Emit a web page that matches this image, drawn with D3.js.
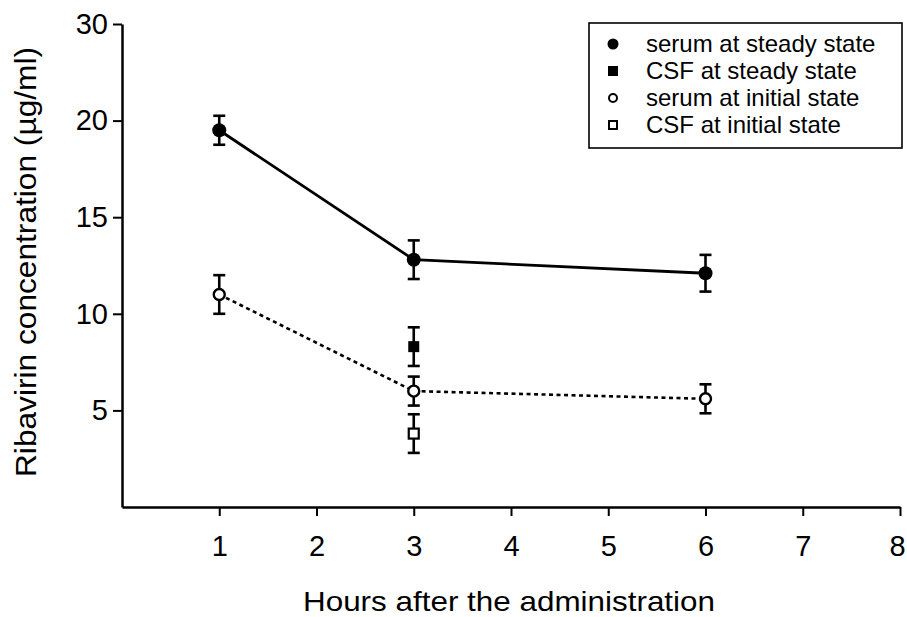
<!DOCTYPE html>
<html>
<head>
<meta charset="utf-8">
<script src="https://cdn.jsdelivr.net/npm/d3@7"></script>
<style>
  body { margin: 0; background: #fff; }
  text { font-family: "Liberation Sans", Arial, Helvetica, sans-serif; fill: #000; }
</style>
</head>
<body>
<div id="chart"></div>
<script>
var svgWidth = 907;
var svgHeight = 617;

var margin = { top: 24, right: 7, bottom: 110, left: 122 };
var width = svgWidth - margin.left - margin.right;
var height = svgHeight - margin.top - margin.bottom;

// data (hours, mean, error)
var hours = [1, 3, 6];
var serumSteady = [19.5, 12.8, 12.1];
var serumSteadyErr = [0.75, 1.0, 0.95];
var serumInitial = [11.0, 6.0, 5.6];
var serumInitialErr = [1.0, 0.75, 0.75];
var csfHours = [3];
var csfSteady = [8.3];
var csfSteadyErr = [1.0];
var csfInitial = [3.8];
var csfInitialErr = [1.0];

var xTicks = [1, 2, 3, 4, 5, 6, 7, 8];
// the top tick of the original axis is labelled 30 although it sits where 25 would be
var yTickValues = [5, 10, 15, 20, 25];
var yTickLabels = ["5", "10", "15", "20", "30"];

var legendLabels = ["serum at steady state", "CSF at steady state",
  "serum at initial state", "CSF at initial state"];

var svg = d3.select("#chart")
  .append("svg")
  .attr("width", svgWidth)
  .attr("height", svgHeight);

var chartGroup = svg.append("g")
  .attr("transform", `translate(${margin.left}, ${margin.top})`);

var xScale = d3.scaleLinear().domain([0, 8]).range([0, width]);
var yScale = d3.scaleLinear().domain([0, 25]).range([height, 0]);

// axes
var bottomAxis = d3.axisBottom(xScale)
  .tickValues(xTicks)
  .tickSize(9)
  .tickPadding(19)
  .tickSizeOuter(0);

var leftAxis = d3.axisLeft(yScale)
  .tickValues(yTickValues)
  .tickFormat((d, i) => yTickLabels[i])
  .tickSize(9)
  .tickPadding(5)
  .tickSizeOuter(0);

var xAxis = chartGroup.append("g")
  .attr("transform", `translate(0, ${height})`)
  .call(bottomAxis);

var yAxis = chartGroup.append("g")
  .call(leftAxis);

[xAxis, yAxis].forEach(function(ax) {
  ax.select(".domain").attr("stroke", "#000").attr("stroke-width", 2.5);
  ax.selectAll(".tick line").attr("stroke", "#000").attr("stroke-width", 2);
  ax.selectAll(".tick text")
    .style("font-family", '"Liberation Sans", Arial, sans-serif')
    .style("font-size", "29px")
    .attr("fill", "#000");
});
xAxis.selectAll(".tick text").attr("dy", "0.71em");
// last label sits right at the page edge, nudge it in a little
xAxis.selectAll(".tick text").filter(d => d === 8).attr("dx", -3);

// lines
var line = d3.line()
  .x(d => xScale(d[0]))
  .y(d => yScale(d[1]));

chartGroup.append("path")
  .datum(hours.map((h, i) => [h, serumSteady[i]]))
  .attr("d", line)
  .attr("fill", "none")
  .attr("stroke", "#000")
  .attr("stroke-width", 2.8);

chartGroup.append("path")
  .datum(hours.map((h, i) => [h, serumInitial[i]]))
  .attr("d", line)
  .attr("fill", "none")
  .attr("stroke", "#000")
  .attr("stroke-width", 2.6)
  .attr("stroke-dasharray", "4,3.5");

// error bars
function errorBars(xs, ys, errs) {
  var g = chartGroup.append("g");
  xs.forEach(function(x, i) {
    var cx = xScale(x);
    var top = yScale(ys[i] + errs[i]);
    var bot = yScale(ys[i] - errs[i]);
    g.append("line").attr("x1", cx).attr("x2", cx).attr("y1", top).attr("y2", bot);
    g.append("line").attr("x1", cx - 6).attr("x2", cx + 6).attr("y1", top).attr("y2", top);
    g.append("line").attr("x1", cx - 6).attr("x2", cx + 6).attr("y1", bot).attr("y2", bot);
  });
  g.selectAll("line").attr("stroke", "#000").attr("stroke-width", 2.6);
}

errorBars(hours, serumSteady, serumSteadyErr);
errorBars(hours, serumInitial, serumInitialErr);
errorBars(csfHours, csfSteady, csfSteadyErr);
errorBars(csfHours, csfInitial, csfInitialErr);

// markers
chartGroup.selectAll(".ss")
  .data(serumSteady)
  .enter()
  .append("circle")
  .attr("cx", (d, i) => xScale(hours[i]))
  .attr("cy", d => yScale(d))
  .attr("r", 7)
  .attr("fill", "#000");

chartGroup.selectAll(".si")
  .data(serumInitial)
  .enter()
  .append("circle")
  .attr("cx", (d, i) => xScale(hours[i]))
  .attr("cy", d => yScale(d))
  .attr("r", 5.5)
  .attr("fill", "#fff")
  .attr("stroke", "#000")
  .attr("stroke-width", 2.4);

chartGroup.selectAll(".cs")
  .data(csfSteady)
  .enter()
  .append("rect")
  .attr("x", (d, i) => xScale(csfHours[i]) - 5.5)
  .attr("y", d => yScale(d) - 5.5)
  .attr("width", 11)
  .attr("height", 11)
  .attr("fill", "#000");

chartGroup.selectAll(".ci")
  .data(csfInitial)
  .enter()
  .append("rect")
  .attr("x", (d, i) => xScale(csfHours[i]) - 5)
  .attr("y", d => yScale(d) - 5)
  .attr("width", 10)
  .attr("height", 10)
  .attr("fill", "#fff")
  .attr("stroke", "#000")
  .attr("stroke-width", 2.2);

// axis labels
svg.append("text")
  .attr("x", 509)
  .attr("y", 611)
  .attr("text-anchor", "middle")
  .style("font-size", "28px")
  .attr("textLength", 412)
  .attr("lengthAdjust", "spacingAndGlyphs")
  .text("Hours after the administration");

svg.append("text")
  .attr("transform", "translate(36, 262) rotate(-90)")
  .attr("text-anchor", "middle")
  .style("font-size", "29px")
  .attr("textLength", 430)
  .attr("lengthAdjust", "spacingAndGlyphs")
  .text("Ribavirin concentration  (\u00b5g/ml)");

// legend
var legend = svg.append("g");
legend.append("rect")
  .attr("x", 589)
  .attr("y", 23)
  .attr("width", 313)
  .attr("height", 125)
  .attr("fill", "#fff")
  .attr("stroke", "#000")
  .attr("stroke-width", 1.6);

var rowY = [44, 71, 98, 125];
var lx = 613;
legend.append("circle").attr("cx", lx).attr("cy", rowY[0]).attr("r", 5.5).attr("fill", "#000");
legend.append("rect").attr("x", lx - 5).attr("y", rowY[1] - 5).attr("width", 10).attr("height", 10).attr("fill", "#000");
legend.append("circle").attr("cx", lx).attr("cy", rowY[2]).attr("r", 4)
  .attr("fill", "#fff").attr("stroke", "#000").attr("stroke-width", 2);
legend.append("rect").attr("x", lx - 4).attr("y", rowY[3] - 4).attr("width", 8).attr("height", 8)
  .attr("fill", "#fff").attr("stroke", "#000").attr("stroke-width", 2);

legend.selectAll(".lbl")
  .data(legendLabels)
  .enter()
  .append("text")
  .attr("x", 646)
  .attr("y", (d, i) => rowY[i])
  .attr("dy", "0.35em")
  .style("font-size", "24px")
  .text(d => d);
</script>
</body>
</html>
